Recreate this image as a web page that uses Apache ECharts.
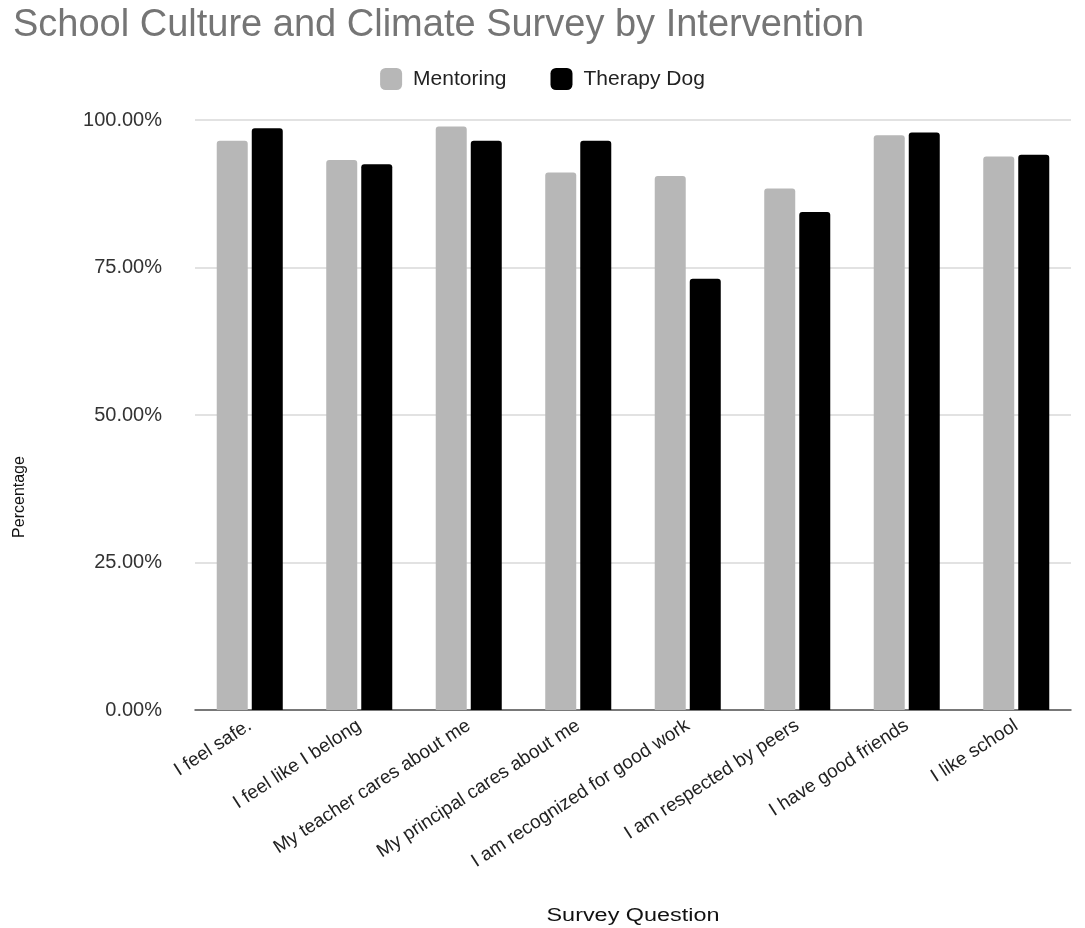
<!DOCTYPE html>
<html>
<head>
<meta charset="utf-8">
<script src="https://cdn.jsdelivr.net/npm/echarts@6/dist/echarts.min.js"></script>
<style>
  html, body { margin: 0; padding: 0; background: #fff; }
  #chart { width: 1085px; height: 928px; }
</style>
</head>
<body>
<div id="chart"></div>
<script>
const questions = [
  'I feel safe.',
  'I feel like I belong',
  'My teacher cares about me',
  'My principal cares about me',
  'I am recognized for good work',
  'I am respected by peers',
  'I have good friends',
  'I like school'
];
const mentoring = [96.5, 93.2, 98.9, 91.1, 90.5, 88.4, 97.4, 93.8];
const therapyDog = [98.6, 92.5, 96.5, 96.5, 73.1, 84.4, 97.9, 94.1];
const yTicks = [0, 25, 50, 75, 100];

const font = 'Liberation Sans, Arial, sans-serif';
const chart = echarts.init(document.getElementById('chart'));

chart.setOption({
  animation: false,
  title: {
    text: 'School Culture and Climate Survey by Intervention',
    left: 8,
    top: 2,
    textStyle: { fontFamily: font, fontSize: 38, fontWeight: 'normal', color: '#757575' }
  },
  legend: {
    data: ['Mentoring', 'Therapy Dog'],
    left: 'center',
    top: 63,
    itemWidth: 22,
    itemHeight: 22,
    itemGap: 44,
    icon: 'roundRect',
    textStyle: { fontFamily: font, fontSize: 21, color: '#222', padding: [0, 0, 0, 6] }
  },
  grid: { left: 195, right: 14, top: 120, bottom: 218 },
  graphic: [
    {
      type: 'text',
      x: 12, y: 497,
      rotation: Math.PI / 2,
      style: {
        text: 'Percentage',
        fontFamily: 'Liberation Sans Narrow, Liberation Sans, sans-serif',
        fontSize: 16, fill: '#111',
        align: 'center', verticalAlign: 'top'
      }
    },
    {
      type: 'text',
      x: 633, y: 916,
      scaleX: 1.3,
      style: {
        text: 'Survey Question',
        fontFamily: font, fontSize: 18, fill: '#111',
        align: 'center', verticalAlign: 'middle'
      }
    }
  ],
  xAxis: {
    type: 'category',
    data: questions,
    axisTick: { show: false },
    axisLine: { lineStyle: { color: '#555', width: 1.5 } },
    axisLabel: {
      rotate: 33,
      interval: 0,
      margin: 14,
      fontFamily: font,
      fontSize: 19,
      color: '#222'
    }
  },
  yAxis: {
    type: 'value',
    min: yTicks[0],
    max: yTicks[yTicks.length - 1],
    interval: 25,
    axisLine: { show: false },
    axisTick: { show: false },
    splitLine: { lineStyle: { color: '#d9d9d9', width: 1.5 } },
    axisLabel: {
      margin: 33,
      fontFamily: font,
      fontSize: 20,
      color: '#333',
      formatter: v => v.toFixed(2) + '%'
    }
  },
  series: [
    {
      name: 'Mentoring',
      type: 'bar',
      data: mentoring,
      barWidth: 31,
      barGap: '13%',
      itemStyle: { color: '#b7b7b7', borderRadius: [3, 3, 0, 0] }
    },
    {
      name: 'Therapy Dog',
      type: 'bar',
      data: therapyDog,
      barWidth: 31,
      barGap: '13%',
      itemStyle: { color: '#000000', borderRadius: [3, 3, 0, 0] }
    }
  ]
});
</script>
</body>
</html>
